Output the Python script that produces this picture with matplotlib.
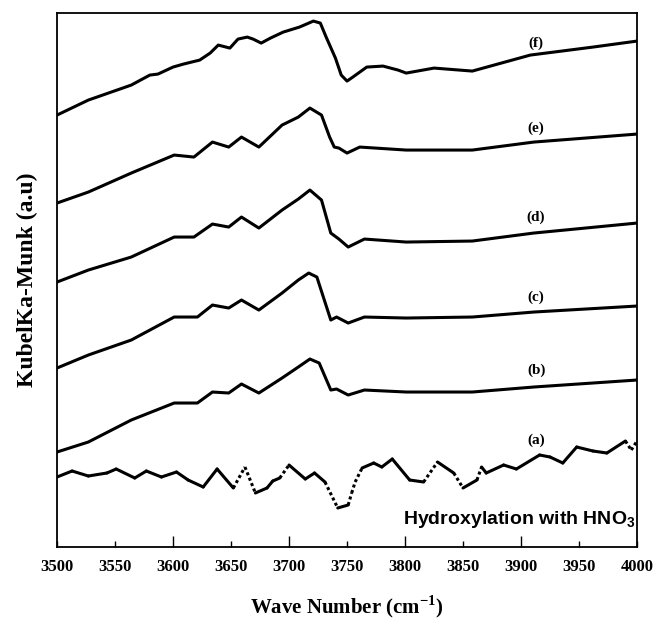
import matplotlib
matplotlib.use("Agg")
import matplotlib.pyplot as plt

plt.rcParams["mathtext.fontset"] = "custom"
plt.rcParams["mathtext.rm"] = "Liberation Serif:bold"
plt.rcParams["mathtext.sf"] = "Liberation Sans:bold"
plt.rcParams["axes.unicode_minus"] = True

# ---- data (wave number, Kubelka-Munk in arbitrary units) ----
wave_f = [3500, 3527, 3564, 3580, 3587, 3600, 3609, 3623, 3632, 3639, 3649, 3656, 3664, 3669,
          3676, 3684, 3695, 3709, 3715, 3721, 3727, 3732, 3740, 3745, 3750, 3755, 3767, 3781,
          3794, 3801, 3825, 3858, 3908, 3962, 4000]
km_f = [432, 447, 462, 472, 473, 480, 483, 487, 494, 502, 499, 508, 510, 508,
        504, 509, 515, 520, 523, 526, 524, 510, 489, 472, 466, 470, 480, 481,
        477, 474, 479, 476, 492, 500, 506]

wave_e = [3500, 3527, 3564, 3601, 3618, 3634, 3648, 3659, 3674, 3694, 3708, 3718, 3728,
          3735, 3739, 3743, 3750, 3761, 3801, 3858, 3911, 4000]
km_e = [344, 355, 374, 392, 390, 405, 400, 410, 400, 422, 430, 439, 432,
        410, 400, 399, 394, 400, 397, 397, 405, 413]

wave_d = [3500, 3527, 3564, 3601, 3618, 3634, 3648, 3659, 3674, 3694, 3708, 3718, 3728,
          3736, 3743, 3751, 3765, 3801, 3858, 3911, 4000]
km_d = [265, 277, 290, 310, 310, 323, 320, 330, 319, 337, 348, 357, 347,
        314, 308, 300, 308, 305, 306, 314, 324]

wave_c = [3500, 3527, 3564, 3601, 3621, 3634, 3648, 3659, 3674, 3694, 3708, 3717, 3724,
          3736, 3741, 3751, 3765, 3801, 3858, 3911, 4000]
km_c = [179, 192, 207, 230, 230, 242, 239, 247, 237, 254, 267, 274, 270,
        227, 230, 224, 230, 229, 230, 235, 241]

wave_b = [3500, 3527, 3564, 3601, 3621, 3634, 3648, 3659, 3674, 3694, 3708, 3718, 3726,
          3736, 3741, 3751, 3765, 3801, 3858, 3911, 4000]
km_b = [95, 105, 127, 144, 144, 155, 154, 163, 154, 169, 180, 188, 184,
        157, 158, 152, 157, 155, 155, 160, 167]

wave_a = [3500, 3513, 3527, 3543, 3551, 3567, 3577, 3590, 3603, 3613, 3626, 3638, 3652,
          3662, 3671, 3681, 3686, 3692, 3700, 3714, 3722, 3731, 3742, 3751, 3754, 3757,
          3763, 3773, 3780, 3789, 3804, 3816, 3828, 3842, 3850, 3862, 3866, 3870, 3885,
          3896, 3916, 3925, 3936, 3948, 3962, 3974, 3990, 3995, 4000]
km_a = [70, 76, 71, 74, 78, 69, 76, 70, 75, 67, 60, 78, 59,
        80, 54, 59, 66, 69, 82, 68, 74, 65, 39, 42, 54, 65,
        79, 84, 80, 88, 67, 65, 85, 74, 59, 67, 80, 74, 82,
        78, 92, 90, 84, 100, 96, 94, 106, 97, 106]

series = [("(a)", wave_a, km_a), ("(b)", wave_b, km_b), ("(c)", wave_c, km_c),
          ("(d)", wave_d, km_d), ("(e)", wave_e, km_e), ("(f)", wave_f, km_f)]
label_y = {"(a)": 107, "(b)": 177, "(c)": 250, "(d)": 330, "(e)": 419, "(f)": 504}
label_x = 3913

xticks_major = [3600, 3700, 3800, 3900]
xticks_minor = [3500, 3550, 3650, 3750, 3850, 3950, 4000]

fig = plt.figure(figsize=(6.57, 6.23), dpi=100)
ax = fig.add_axes([0.0868, 0.122, 0.8828, 0.857])

serif = "Liberation Serif"
for name, w, k in series:
    if name == "(a)":
        # scanned trace: flat stretches look continuous, steep stretches break into dots
        for i in range(len(w) - 1):
            steep = abs(k[i + 1] - k[i]) > 1.3 * (w[i + 1] - w[i]) * 1.16
            ax.plot(w[i:i + 2], k[i:i + 2], color="black", lw=2.2,
                    linestyle=(0, (1.0, 0.9)) if steep else "-",
                    solid_capstyle="round")
    else:
        ax.plot(w, k, color="black", lw=2.2, solid_capstyle="round", solid_joinstyle="round")
    ax.text(label_x, label_y[name], name, fontsize=11, fontweight="bold",
            family=serif, ha="center", va="center")

ax.text(3999, 27, r"Hydroxylation with HNO$_\mathsf{3}$", fontsize=14, fontweight="bold",
        family="Liberation Sans", ha="right", va="center")

ax.set_xlim(3500, 4000)
ax.set_ylim(0, 534)
ax.set_yticks([])
ax.set_xticks(xticks_major, [str(v) for v in xticks_major])
ax.set_xticks(xticks_minor, [str(v) for v in xticks_minor], minor=True)
ax.tick_params(axis="x", which="major", direction="in", length=8, width=1, pad=9)
ax.tick_params(axis="x", which="minor", direction="in", length=4, width=1, pad=9)
for lab in ax.get_xticklabels(which="both"):
    lab.set_fontfamily(serif)
    lab.set_fontweight("bold")
    lab.set_fontsize(12)
for sp in ax.spines.values():
    sp.set_linewidth(1.3)

ax.set_xlabel("Wave Number (cm$^{-1}$)", fontsize=15, fontweight="bold", family=serif, labelpad=13)
ax.set_ylabel("KubelKa-Munk (a.u)", fontsize=17, fontweight="bold", family=serif, labelpad=14)

fig.savefig("out.png", dpi=100)
